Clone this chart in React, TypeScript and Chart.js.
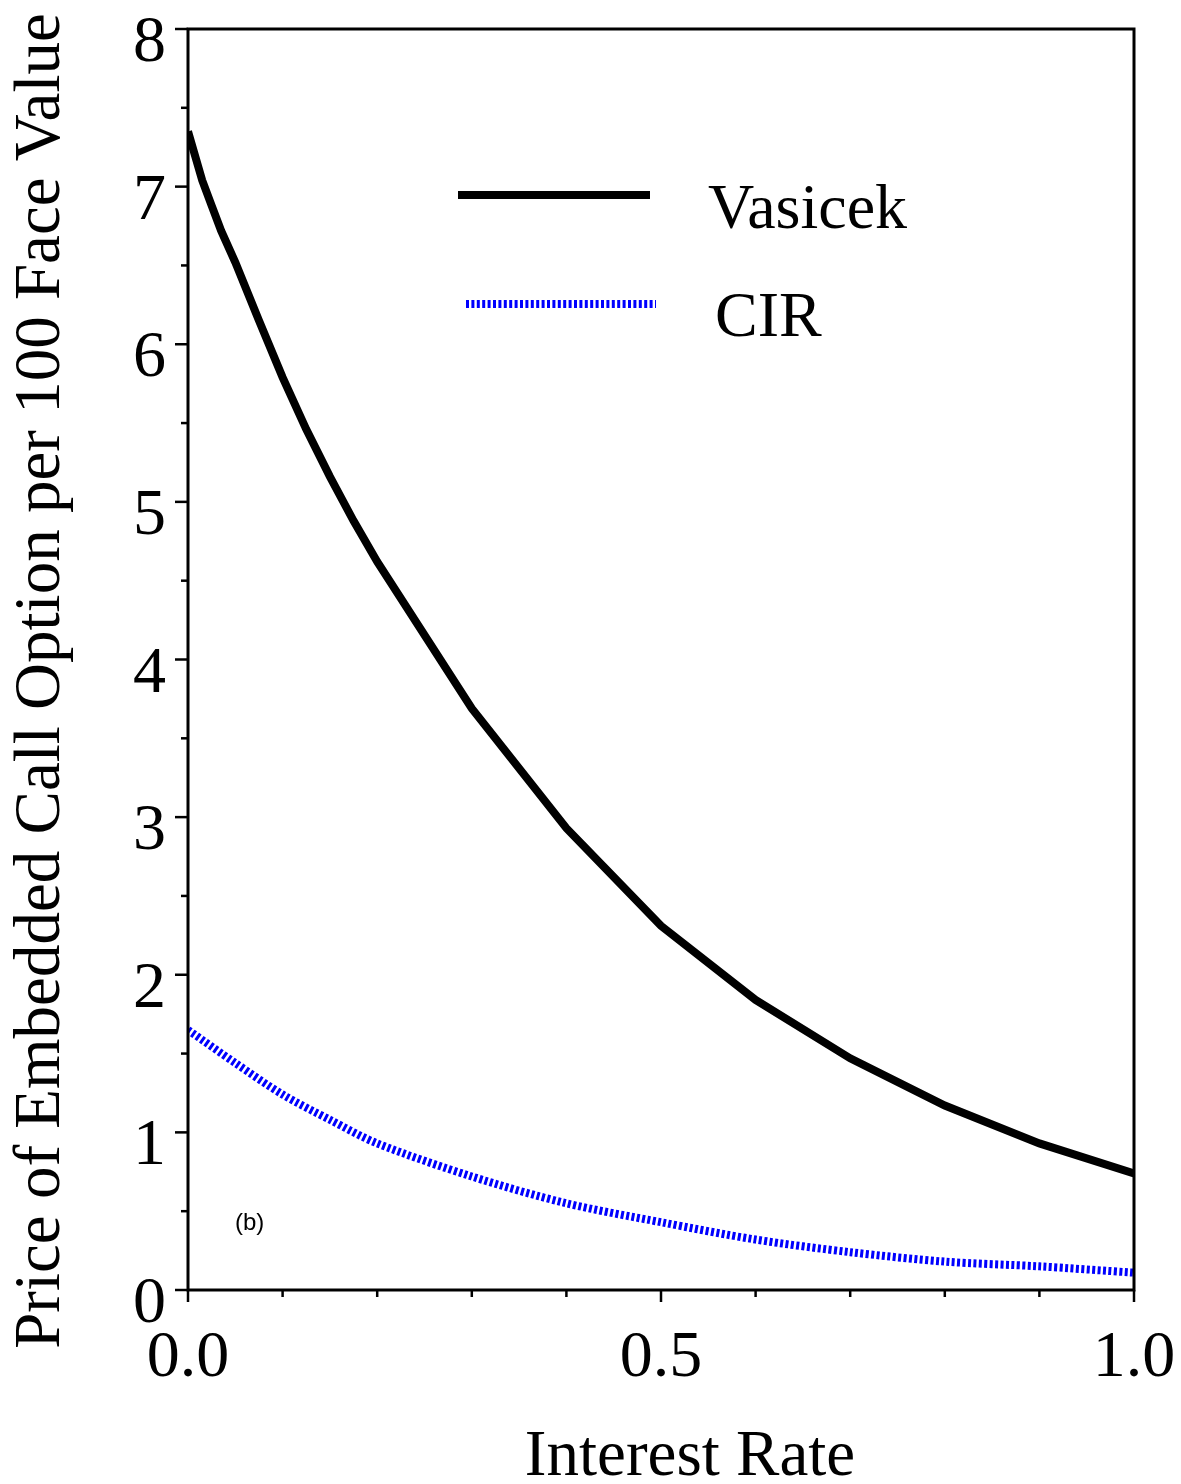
import { useEffect, useRef } from "react";
import { Chart, registerables } from "chart.js";

Chart.register(...registerables);

// Interest rate (x) and embedded call option price per 100 face value (y)
const vasicekRates = [0, 0.015, 0.025, 0.035, 0.05, 0.075, 0.1, 0.125, 0.15, 0.175, 0.2, 0.3, 0.4, 0.5, 0.6, 0.7, 0.8, 0.9, 1.0];
const vasicekPrices = [7.35, 7.04, 6.88, 6.72, 6.52, 6.15, 5.79, 5.46, 5.16, 4.88, 4.62, 3.69, 2.93, 2.31, 1.84, 1.47, 1.17, 0.93, 0.74];

const cirRates = [0, 0.05, 0.1, 0.15, 0.2, 0.3, 0.4, 0.5, 0.6, 0.7, 0.8, 0.9, 1.0];
const cirPrices = [1.65, 1.44, 1.24, 1.08, 0.93, 0.72, 0.55, 0.43, 0.32, 0.24, 0.18, 0.15, 0.11];

const seriesNames = ["Vasicek", "CIR"];
const xTickLabels = ["0.0", "0.5", "1.0"];
const yTickLabels = ["0", "1", "2", "3", "4", "5", "6", "7", "8"];
const xTitle = "Interest Rate";
const yTitle = "Price of Embedded Call Option per 100 Face Value";
const panelTag = "(b)";

const SERIF = '"Liberation Serif", "Times New Roman", serif';
const SANS = '"Liberation Sans", Arial, sans-serif';

const frameAndText = {
  id: "frameAndText",
  afterDraw(chart: any) {
    const { ctx, chartArea } = chart;
    const xs = chart.scales.x;
    const ys = chart.scales.y;
    const { left, right, top, bottom } = chartArea;
    ctx.save();

    // plot frame
    ctx.strokeStyle = "#000";
    ctx.lineWidth = 3;
    ctx.lineCap = "butt";
    ctx.strokeRect(left, top, right - left, bottom - top);

    // outward tick marks: long on labelled values, short in between
    ctx.lineWidth = 2.5;
    ys.ticks.forEach((t: any) => {
      const y = ys.getPixelForValue(t.value);
      const major = Math.abs(t.value - Math.round(t.value)) < 1e-6;
      ctx.beginPath();
      ctx.moveTo(left, y);
      ctx.lineTo(left - (major ? 13 : 7), y);
      ctx.stroke();
    });
    xs.ticks.forEach((t: any) => {
      const x = xs.getPixelForValue(t.value);
      const major = Math.abs(t.value * 2 - Math.round(t.value * 2)) < 1e-6;
      ctx.beginPath();
      ctx.moveTo(x, bottom);
      ctx.lineTo(x, bottom + (major ? 12 : 7));
      ctx.stroke();
    });

    // tick labels
    ctx.fillStyle = "#000";
    ctx.font = `66px ${SERIF}`;
    ctx.textBaseline = "alphabetic";
    ctx.textAlign = "right";
    yTickLabels.forEach((lab) => {
      const y = ys.getPixelForValue(Number(lab));
      ctx.fillText(lab, left - 22, y + 32);
    });
    ctx.textAlign = "center";
    xTickLabels.forEach((lab) => {
      const x = xs.getPixelForValue(Number(lab));
      ctx.fillText(lab, x, bottom + 86);
    });

    // axis titles
    ctx.font = `65px ${SERIF}`;
    ctx.textAlign = "center";
    ctx.fillText(xTitle, 690, bottom + 185);
    ctx.save();
    ctx.translate(59, 681);
    ctx.rotate(-Math.PI / 2);
    ctx.fillText(yTitle, 0, 0);
    ctx.restore();

    // legend
    const legendRows = [
      { x0: 458, x1: 650, y: 195, tx: 708, ty: 228 },
      { x0: 466, x1: 656, y: 304, tx: 715, ty: 336 },
    ];
    chart.data.datasets.forEach((ds: any, i: number) => {
      const row = legendRows[i];
      ctx.save();
      ctx.strokeStyle = ds.borderColor;
      ctx.lineWidth = 8;
      ctx.lineCap = "butt";
      ctx.setLineDash(ds.borderDash || []);
      ctx.beginPath();
      ctx.moveTo(row.x0, row.y);
      ctx.lineTo(row.x1, row.y);
      ctx.stroke();
      ctx.restore();
      ctx.font = `64px ${SERIF}`;
      ctx.textAlign = "left";
      ctx.fillStyle = "#000";
      ctx.fillText(seriesNames[i], row.tx, row.ty);
    });

    // panel tag
    ctx.font = `24px ${SANS}`;
    ctx.textAlign = "left";
    ctx.fillText(panelTag, 235, 1230);

    ctx.restore();
  },
};

export default function App() {
  const canvasRef = useRef<HTMLCanvasElement | null>(null);

  useEffect(() => {
    const canvas = canvasRef.current;
    if (!canvas) return;
    const chart = new Chart(canvas, {
      type: "line",
      data: {
        datasets: [
          {
            label: seriesNames[0],
            data: vasicekRates.map((r, i) => ({ x: r, y: vasicekPrices[i] })),
            borderColor: "#000000",
            borderWidth: 8,
            pointRadius: 0,
            tension: 0,
            fill: false,
            borderCapStyle: "butt",
            borderJoinStyle: "miter",
          },
          {
            label: seriesNames[1],
            data: cirRates.map((r, i) => ({ x: r, y: cirPrices[i] })),
            borderColor: "#0000ff",
            borderWidth: 8,
            borderDash: [3, 2.4],
            pointRadius: 0,
            tension: 0.3,
            fill: false,
            borderCapStyle: "butt",
          },
        ],
      },
      options: {
        animation: false,
        responsive: false,
        devicePixelRatio: 1,
        layout: { padding: { top: 29, right: 47, left: 0, bottom: 0 } },
        plugins: {
          legend: { display: false },
          tooltip: { enabled: false },
        },
        scales: {
          x: {
            type: "linear",
            min: 0,
            max: 1,
            ticks: { display: false, stepSize: 0.1 },
            grid: { display: false, drawTicks: false },
            border: { display: false },
            afterFit: (s: any) => {
              s.height = 194;
            },
          },
          y: {
            type: "linear",
            min: 0,
            max: 8,
            ticks: { display: false, stepSize: 0.5 },
            grid: { display: false, drawTicks: false },
            border: { display: false },
            afterFit: (s: any) => {
              s.width = 188;
            },
          },
        },
      },
      plugins: [frameAndText],
    } as any);
    return () => chart.destroy();
  }, []);

  return (
    <div style={{ position: "absolute", left: 0, top: 0, width: 1181, height: 1484, background: "#fff" }}>
      <canvas ref={canvasRef} width={1181} height={1484} style={{ width: 1181, height: 1484 }} />
    </div>
  );
}
